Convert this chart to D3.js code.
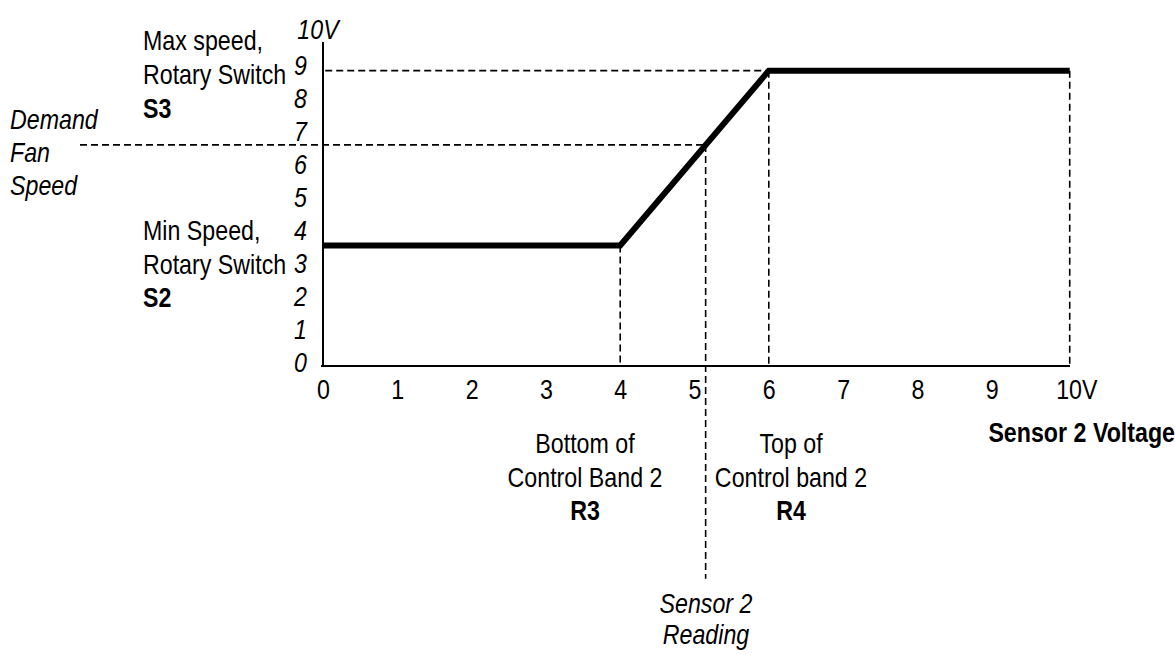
<!DOCTYPE html>
<html>
<head>
<meta charset="utf-8">
<script src="https://cdn.jsdelivr.net/npm/d3@7"></script>
<style>
  body { margin: 0; background: #fff; }
  svg text { font-family: "Liberation Sans", Arial, sans-serif; font-size: 27px; fill: #000; }
  .it { font-style: italic; }
  .bold { font-weight: bold; }
</style>
</head>
<body>
<div id="chart"></div>
<script>
// values
var xTicks = [0, 1, 2, 3, 4, 5, 6, 7, 8, 9, 10];
var yTicks = [0, 1, 2, 3, 4, 5, 6, 7, 8, 9, 10];
var curveX = [0, 4, 6, 10.05];
var curveY = [3.65, 3.65, 8.95, 8.95];
var sensorReading = 5.15;
var demandSpeed = 6.7;

var width = 1175;
var height = 655;
var narrow = 0.86; // squeeze Liberation Sans to look like a narrow face

var svg = d3.select("#chart")
  .append("svg")
  .attr("width", width)
  .attr("height", height);

var xScale = d3.scaleLinear().domain([0, 10]).range([323, 1066]);
var yScale = d3.scaleLinear().domain([0, 10]).range([366, 36]);

// dashed guide lines
var dash = "7,4";
function guide(x1, y1, x2, y2) {
  svg.append("line")
    .attr("x1", x1).attr("y1", y1)
    .attr("x2", x2).attr("y2", y2)
    .attr("stroke", "#000")
    .attr("stroke-width", 1.6)
    .attr("stroke-dasharray", dash);
}
// top plateau -> y axis
guide(xScale(0.03), yScale(curveY[2]), xScale(curveX[2]), yScale(curveY[2]));
// demand fan speed line
guide(80, yScale(demandSpeed), xScale(sensorReading), yScale(demandSpeed));
// verticals
guide(xScale(curveX[1]), yScale(curveY[1]), xScale(curveX[1]), yScale(0));
guide(xScale(curveX[2]), yScale(curveY[2]), xScale(curveX[2]), yScale(0));
guide(xScale(curveX[3]), yScale(curveY[3]), xScale(curveX[3]), yScale(0));
guide(xScale(sensorReading), yScale(demandSpeed), xScale(sensorReading), yScale(-6.45));

// axes
var xAxis = d3.axisBottom(xScale)
  .tickValues(xTicks)
  .tickSize(0)
  .tickPadding(14)
  .tickFormat(function(d) { return d === 10 ? "10V" : d; });

var gx = svg.append("g")
  .attr("class", "xAxis")
  .attr("transform", "translate(0," + yScale(0) + ")")
  .call(xAxis);
gx.select(".domain").remove();
gx.attr("font-size", null).attr("font-family", null);
gx.selectAll("text")
  .attr("dx", function(d) { return d === 10 ? 12 : 0; });

var yAxis = d3.axisLeft(yScale)
  .tickValues(yTicks.slice(0, 10))
  .tickSize(0)
  .tickPadding(16);

var gy = svg.append("g")
  .attr("class", "yAxis")
  .attr("transform", "translate(" + xScale(0) + ",0)")
  .call(yAxis);
gy.select(".domain").remove();
gy.attr("font-size", null).attr("font-family", null);
gy.selectAll("text").attr("class", "it").attr("dy", "0.2em");

svg.append("text")
  .attr("class", "it")
  .attr("x", 318)
  .attr("y", yScale(10) + 3)
  .attr("text-anchor", "middle")
  .text("10V");

svg.append("line")
  .attr("x1", xScale(0) - 2).attr("y1", yScale(0))
  .attr("x2", 1070).attr("y2", yScale(0))
  .attr("stroke", "#000").attr("stroke-width", 2);
svg.append("line")
  .attr("x1", xScale(0)).attr("y1", yScale(0))
  .attr("x2", xScale(0)).attr("y2", yScale(9.82))
  .attr("stroke", "#000").attr("stroke-width", 2);

// control curve
var pts = curveX.map(function(x, i) { return [x, curveY[i]]; });
var line = d3.line()
  .x(function(d) { return xScale(d[0]); })
  .y(function(d) { return yScale(d[1]); });
svg.append("path")
  .datum(pts)
  .attr("d", line)
  .attr("fill", "none")
  .attr("stroke", "#000")
  .attr("stroke-width", 6)
  .attr("stroke-linejoin", "miter");

// annotations
function label(lines, x, y, anchor, cls, step) {
  lines.forEach(function(t, i) {
    svg.append("text")
      .attr("x", x)
      .attr("y", y + i * step)
      .attr("text-anchor", anchor)
      .attr("class", cls[i] || "")
      .text(t);
  });
}
label(["Max speed,", "Rotary Switch", "S3"], 143, 50, "start", ["", "", "bold"], 34);
label(["Min Speed,", "Rotary Switch", "S2"], 143, 240, "start", ["", "", "bold"], 33.5);
label(["Demand", "Fan", "Speed"], 10, 129, "start", ["it", "it", "it"], 33);
label(["Bottom of", "Control Band 2", "R3"], 585, 453, "middle", ["", "", "bold"], 33.5);
label(["Top of", "Control band 2", "R4"], 791, 453, "middle", ["", "", "bold"], 33.5);
label(["Sensor 2", "Reading"], 706, 613, "middle", ["it", "it"], 31);
label(["Sensor 2 Voltage"], 1175, 442, "end", ["bold"], 0);

// squeeze every text horizontally around its own anchor point
svg.selectAll("text").each(function() {
  var t = d3.select(this);
  var x = +t.attr("x") || 0;
  var y = +t.attr("y") || 0;
  t.attr("x", 0).attr("y", 0)
    .attr("transform", "translate(" + x + "," + y + ") scale(" + narrow + ",1)");
});
</script>
</body>
</html>
